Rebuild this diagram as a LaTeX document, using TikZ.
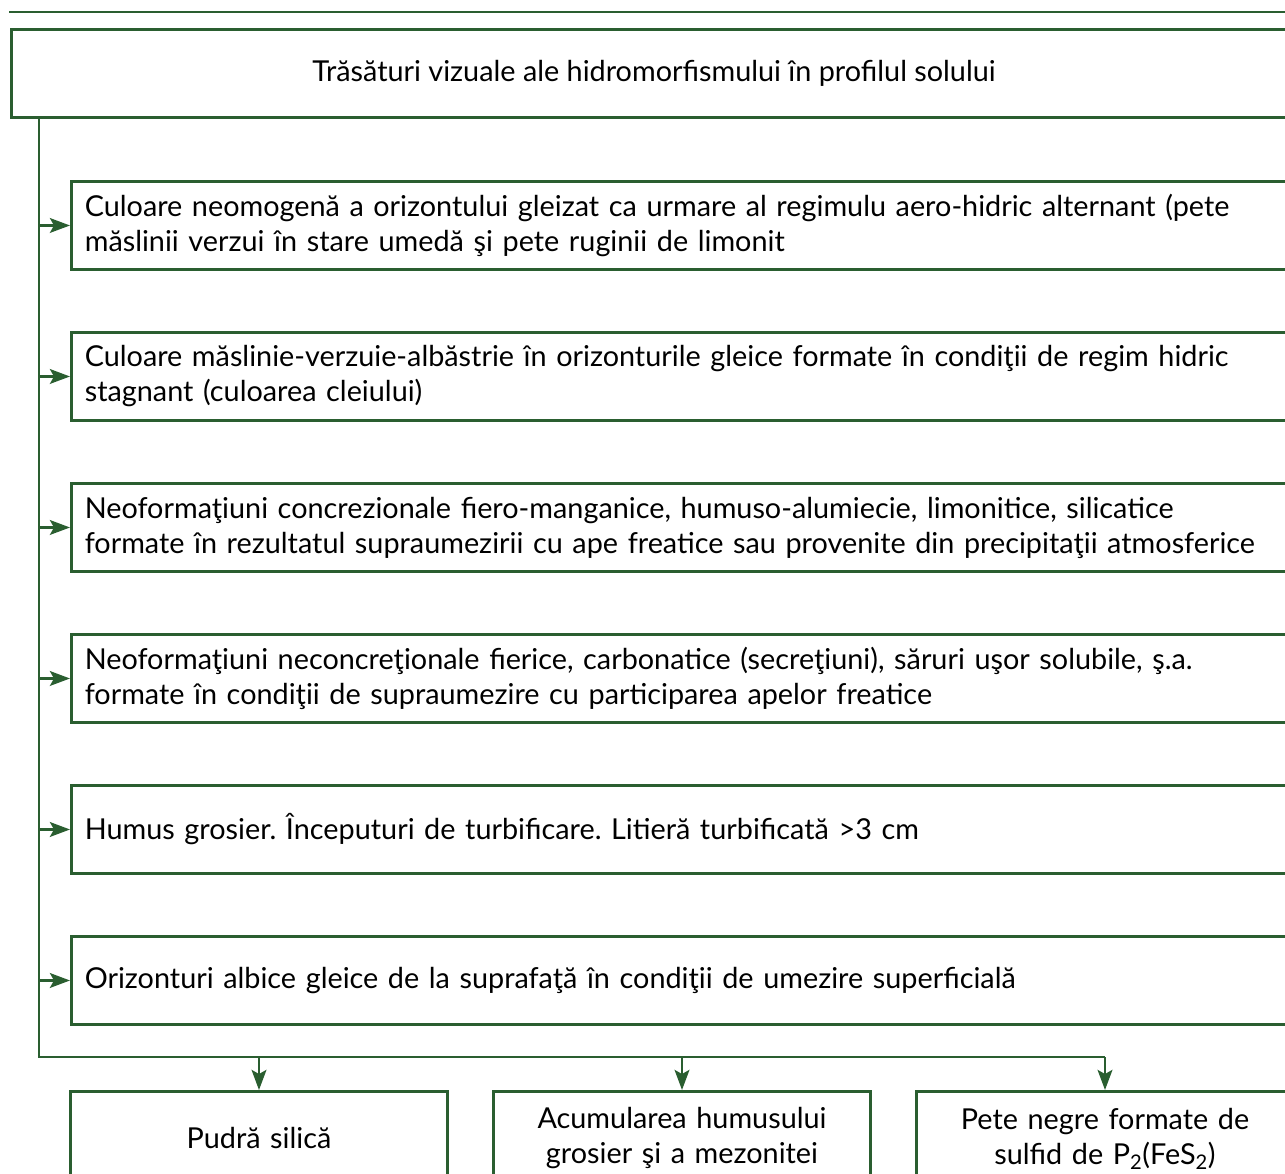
\documentclass[tikz,border=0pt]{standalone}
\usepackage{fontspec}
\setmainfont{Lato}
\usetikzlibrary{arrows.meta}
\definecolor{leaf}{RGB}{42,94,48}
\frenchspacing
\begin{document}
\begin{tikzpicture}[x=0.75pt,y=-0.75pt,
  line width=2.2pt,
  every node/.style={font=\fontsize{21.6}{26.25}\selectfont, text=black},
  frame/.style={draw=leaf, rectangle, inner sep=0pt},
  wide/.style={frame, anchor=north west, minimum width=930pt, minimum height=66pt,
               text width=910pt, align=left, inner xsep=10pt},
  small/.style={frame, anchor=north, minimum width=282.75pt, minimum height=70.5pt,
                text width=275pt, align=center},
  arr/.style={draw=leaf, -{Stealth[length=15pt,width=11pt,inset=3pt]}}]
\useasboundingbox (0,0) rectangle (1285,1174);
\clip (0,0) rectangle (1285,1174);
\fill[white] (0,0) rectangle (1285,1174);

% rule above the chart
\coordinate (r0) at (9,12);
\coordinate (r1) at (1290,12);
\draw[leaf, line width=1.8pt] (r0) -- (r1);

% heading
\node[frame, anchor=north west, minimum width=963.75pt, minimum height=66pt] (head) at (10,28)
  {Trăsături vizuale ale hidromorfismului în profilul solului};

% features
\node[wide] (b1) at (70,180) {Culoare neomogenă a orizontului gleizat ca urmare al regimulu aero-hidric alternant (pete\\ măslinii verzui în stare umedă şi pete ruginii de limonit};
\node[wide] (b2) at (70,331) {Culoare măslinie-verzuie-albăstrie în orizonturile gleice formate în condiţii de regim hidric\\ stagnant (culoarea cleiului)};
\node[wide] (b3) at (70,482) {Neoformaţiuni concrezionale fiero-manganice, humuso-alumiecie, limonitice, silicatice\\ formate în rezultatul supraumezirii cu ape freatice sau provenite din precipitaţii atmosferice};
\node[wide] (b4) at (70,633) {Neoformaţiuni neconcreţionale fierice, carbonatice (secreţiuni), săruri uşor solubile, ş.a.\\ formate în condiţii de supraumezire cu participarea apelor freatice};
\node[wide] (b5) at (70,784) {Humus grosier. Începuturi de turbificare. Litieră turbificată >3 cm};
\node[wide] (b6) at (70,935) {Orizonturi albice gleice de la suprafaţă în condiţii de umezire superficială};

% outcomes
\node[small] (c1) at (259,1090) {Pudră silică};
\node[small] (c2) at (682,1090) {Acumularea humusului\\ grosier şi a mezonitei};
\node[small] (c3) at (1105,1090) {Pete negre formate de\\ sulfid de P\textsubscript{2}(FeS\textsubscript{2})};

% trunk line and branches
\coordinate (t0) at (39,116);
\coordinate (t1) at (39,1057);
\draw[leaf] (t0) -- (t1) -- (c3.north |- t1);
\foreach \b in {b1,b2,b3,b4,b5,b6}
  \draw[arr] (\b.west -| t0) -- (\b.west);
\foreach \c in {c1,c2,c3}
  \draw[arr] (\c.north |- t1) -- (\c.north);
\end{tikzpicture}
\end{document}
